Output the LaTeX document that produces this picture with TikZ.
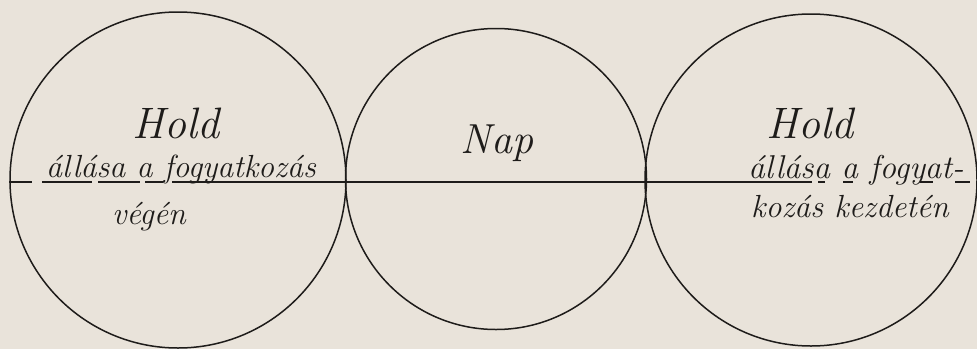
\documentclass[tikz,border=0pt]{standalone}
\usepackage{fontspec}
\definecolor{paper}{RGB}{233,227,218}
\definecolor{ink}{RGB}{30,28,26}
\tikzset{
  body/.style={circle, draw=ink, line width=1.5pt, inner sep=0pt},
  hand/.style={text=ink, font=\itshape\fontsize{#1}{#1}\selectfont, inner sep=0pt, anchor=base},
  rule/.style={draw=ink, line width=1.3pt},
}
\begin{document}
\begin{tikzpicture}[x=1pt,y=-1pt]
\useasboundingbox (0,0) rectangle (977,349);
\fill[paper] (0,0) rectangle (977,349);
% bodies
\node[body, minimum size=336pt] (L) at (178,180) {};
\node[body, minimum size=301pt] (S) at (496,179) {};
\node[body, minimum size=332pt] (R) at (811,180) {};
% texts
\node[hand=44] (hl) at (176,138) {Hold};
\node[hand=32] (tl1) at (181,177) {állása a fogyatkozás};
\node[hand=32] (tl2) at (149,224) {végén};
\node[hand=42] (np) at (497,153) {Nap};
\node[hand=44] (hr) at (810,138) {Hold};
\node[hand=33] (tr1) at (856,178) {állása a fogyat-};
\node[hand=32] (tr2) at (850,217) {kozás kezdetén};
% horizontal line
\coordinate (a0) at (L.west |- 0,182);
\draw[rule] (a0) -- (32,182);
\draw[rule] (42,182) -- (92,182);
\draw[rule] (98,182) -- (140,182);
\draw[rule] (145,182) -- (163,182);
\coordinate (a1) at (172,182);
\coordinate (a2) at (812,182);
\draw[rule] (a1) -- (a2);
\draw[rule] (818,182) -- (825,182);
\draw[rule] (843,182) -- (853,182);
\draw[rule] (920,182) -- (933,182);
\draw[rule] (955,182) -- (970,182);
\end{tikzpicture}
\end{document}
